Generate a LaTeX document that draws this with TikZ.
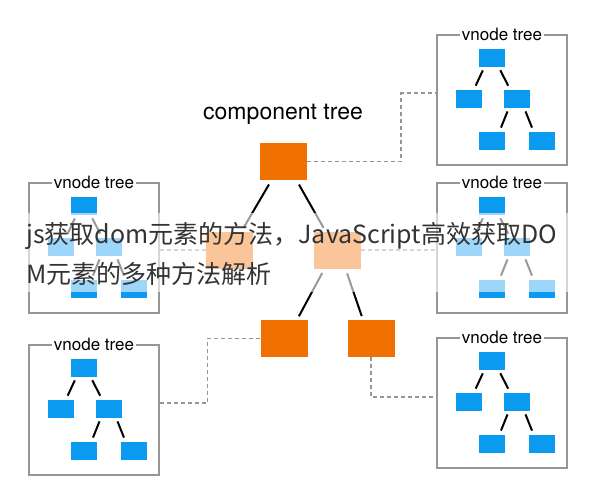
\documentclass[tikz,border=0pt]{standalone}
\usepackage{fontspec}
\setsansfont{TeX Gyre Heros}
\newfontfamily\cjk{Noto Sans CJK SC}
\definecolor{compOrange}{RGB}{240,112,0}
\definecolor{vnodeBlue}{RGB}{10,154,240}
\definecolor{boxGray}{RGB}{150,150,150}
\tikzset{
  comp/.style={rectangle, fill=compOrange, minimum width=47pt, minimum height=37pt, inner sep=0pt},
  vnode/.style={rectangle, fill=vnodeBlue, minimum width=26pt, minimum height=18pt, inner sep=0pt},
  vbox/.style={rectangle, draw=boxGray, line width=1.8pt, minimum width=130pt, minimum height=130pt},
  vtitle/.style={fill=white, inner sep=2pt, font=\sffamily\fontsize{17}{17}\selectfont},
  tlink/.style={line width=2pt, shorten <=5pt, shorten >=4pt},
  vlink/.style={line width=2pt, shorten <=4pt, shorten >=4pt},
  mapto/.style={draw=boxGray, line width=1.6pt, dash pattern=on 4pt off 3pt},
  banner/.style={anchor=base west, inner sep=0pt, text=black!80, font=\cjk\fontsize{25}{25}\selectfont}
}
\begin{document}
\begin{tikzpicture}[x=1pt, y=-1pt]
\useasboundingbox (0,0) rectangle (594,490);
% component tree
\node[font=\sffamily\fontsize{23}{23}\selectfont] (ct-title) at (283,114) {component tree};
\node[comp] (ct-top) at (283.5,161.5) {};
\node[comp] (ct-ml) at (229.5,250) {};
\node[comp] (ct-mr) at (337.5,250) {};
\node[comp] (ct-bl) at (284,338.5) {};
\node[comp] (ct-br) at (371,338.5) {};
\draw[tlink] ([xshift=-12pt]ct-top.south) -- ([xshift=12pt]ct-ml.north);
\draw[tlink] ([xshift=13pt]ct-top.south) -- ([xshift=-12pt]ct-mr.north);
\draw[tlink] ([xshift=-13pt]ct-mr.south) -- ([xshift=13pt]ct-bl.north);
\draw[tlink] ([xshift=8pt]ct-mr.south) -- ([xshift=-8pt]ct-br.north);
% vnode trees
\foreach \n/\x/\y in {tr/437/35, mr/437/183, br/437/338, ml/29/183, bl/29/345} {
  \node[vbox] (\n-box) at (\x+65,\y+65) {};
  \node[vtitle] (\n-title) at (\n-box.north) {vnode tree};
  \node[vnode] (\n-root) at (\x+54.5,\y+22.5) {};
  \node[vnode] (\n-lc) at (\x+32,\y+63.5) {};
  \node[vnode] (\n-rc) at (\x+80,\y+63.5) {};
  \node[vnode] (\n-gl) at (\x+54.5,\y+105.5) {};
  \node[vnode] (\n-gr) at (\x+104.5,\y+105.5) {};
  \draw[vlink] ([xshift=-7pt]\n-root.south) -- ([xshift=5pt]\n-lc.north);
  \draw[vlink] ([xshift=7pt]\n-root.south) -- ([xshift=-7pt]\n-rc.north);
  \draw[vlink] ([xshift=-8pt]\n-rc.south) -- ([xshift=8pt]\n-gl.north);
  \draw[vlink] ([xshift=7pt]\n-rc.south) -- ([xshift=-8pt]\n-gr.north);
}
% dashed mappings
\draw[mapto] (ct-top.east) -- ++(94,0) |- ([yshift=7pt]tr-box.west);
\draw[mapto] (ct-ml.west) -- (ct-ml.west -| ml-box.east);
\draw[mapto] (ct-mr.east) -- (ct-mr.east -| mr-box.west);
\draw[mapto] (ct-bl.west) -- ++(-53,0) |- ([yshift=7pt]bl-box.east);
\draw[mapto] (ct-br.south) |- ([yshift=6pt]br-box.west);
% title banner
\fill[white, opacity=0.6] (0,213) rectangle (594,292);
\node[banner] (band-l1) at (26,243) {js获取dom元素的方法，JavaScript高效获取DO};
\node[banner] (band-l2) at (26,283) {M元素的多种方法解析};
\end{tikzpicture}
\end{document}
